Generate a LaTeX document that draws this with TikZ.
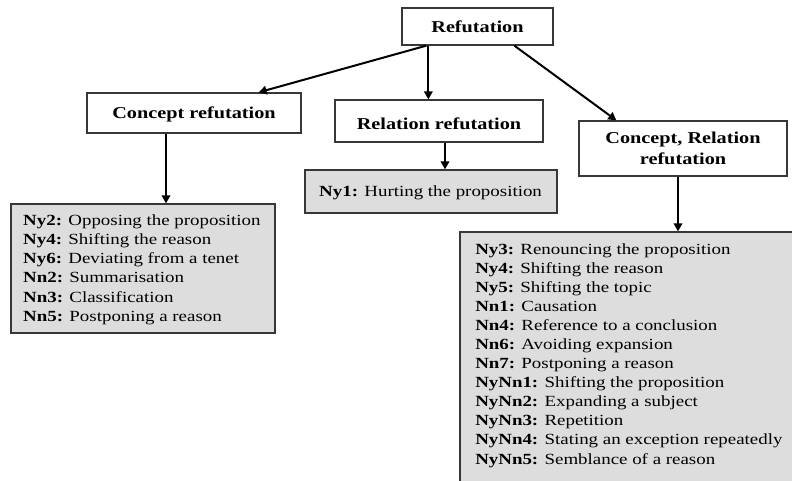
\documentclass[tikz,border=0pt]{standalone}
\usepackage{fontspec}
\setmainfont{LiberationSerif}[Extension=.ttf, UprightFont=*-Regular, BoldFont=*-Bold,
  ItalicFont=*-Italic, BoldItalicFont=*-BoldItalic]
\usetikzlibrary{arrows.meta}
\definecolor{listgray}{RGB}{221,221,221}
\definecolor{edgegray}{RGB}{55,55,55}
\begin{document}
\begin{tikzpicture}[x=1pt,y=-1pt,
  box/.style={draw=edgegray, line width=1.3pt, fill=white, inner sep=0pt},
  listbox/.style={draw=edgegray, line width=1.3pt, fill=listgray, inner sep=0pt},
  head/.style={inner sep=0pt, align=center, xscale=1.22,
    font=\fontsize{16.6}{21}\selectfont\bfseries},
  items/.style={font=\fontsize{15.5}{19.2}\selectfont, align=left, inner sep=0pt, xscale=1.22},
  arr/.style={line width=2pt, -{Triangle[length=8pt,width=8.5pt]}}]
\useasboundingbox (0,0) rectangle (792,481);

% category boxes
\node[box, minimum width=151pt, minimum height=37pt] (ref) at (477.5,26.5) {};
\node[box, minimum width=214pt, minimum height=40pt] (cref) at (194,113) {};
\node[box, minimum width=208pt, minimum height=42pt] (rref) at (439,121) {};
\node[box, minimum width=208pt, minimum height=55pt] (crref) at (683,148.5) {};
\node[head] (reftext) at (ref) {Refutation};
\node[head] (creftext) at ([yshift=-1pt]cref.center) {Concept refutation};
\node[head] (rreftext) at ([yshift=-3pt]rref.center) {Relation refutation};
\node[head] (crreftext) at (crref) {Concept, Relation\\refutation};

% grey list boxes
\node[listbox, minimum width=264pt, minimum height=129pt] (clist) at (143,268.5) {};
\node[listbox, minimum width=252pt, minimum height=43pt] (ny1) at (431,191.5) {};
\node[listbox, minimum width=400pt, minimum height=288pt] (rlist) at (660,376) {};

% list contents
\node[items, anchor=north west] (ctext) at (23,214.4) {%
\textbf{Ny2:} Opposing the proposition\\
\textbf{Ny4:} Shifting the reason\\
\textbf{Ny6:} Deviating from a tenet\\
\textbf{Nn2:} Summarisation\\
\textbf{Nn3:} Classification\\
\textbf{Nn5:} Postponing a reason};
\node[items, anchor=base west] (ny1text) at (319,196.5) {\textbf{Ny1:} Hurting the proposition};
\node[items, anchor=north west, font=\fontsize{15.5}{19.06}\selectfont] (rtext) at (475,243.4) {%
\textbf{Ny3:} Renouncing the proposition\\
\textbf{Ny4:} Shifting the reason\\
\textbf{Ny5:} Shifting the topic\\
\textbf{Nn1:} Causation\\
\textbf{Nn4:} Reference to a conclusion\\
\textbf{Nn6:} Avoiding expansion\\
\textbf{Nn7:} Postponing a reason\\
\textbf{NyNn1:} Shifting the proposition\\
\textbf{NyNn2:} Expanding a subject\\
\textbf{NyNn3:} Repetition\\
\textbf{NyNn4:} Stating an exception repeatedly\\
\textbf{NyNn5:} Semblance of a reason};

% connectors
\draw[arr] ([xshift=25pt]ref.south west) -- ([xshift=-43pt]cref.north east);
\draw[arr] ([xshift=27pt]ref.south west) -- ([xshift=27pt]ref.south west |- rref.north);
\draw[arr] ([xshift=113pt]ref.south west) -- ([xshift=38pt]crref.north west);
\draw[arr] ([xshift=-28pt]cref.south) -- ([xshift=-28pt]cref.south |- clist.north);
\draw[arr] ([xshift=6pt]rref.south) -- ([xshift=6pt]rref.south |- ny1.north);
\draw[arr] ([xshift=-5pt]crref.south) -- ([xshift=-5pt]crref.south |- rlist.north);
\end{tikzpicture}
\end{document}
